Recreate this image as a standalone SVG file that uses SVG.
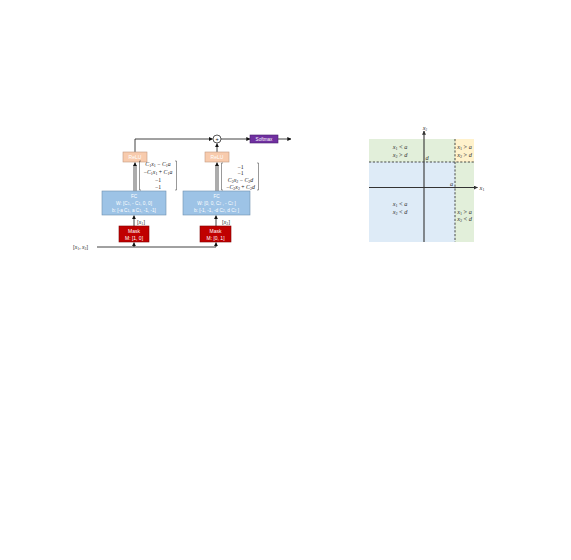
<svg xmlns="http://www.w3.org/2000/svg" width="571" height="560" viewBox="0 0 571 560">
<style>
.bg{fill:#ffffff}
.mask{fill:#c00000;stroke:#7f0000;stroke-width:0.6}
.fc{fill:#9dc3e6;stroke:#6f8fae;stroke-width:0.6}
.relu{fill:#f8cbad;stroke:#c49a80;stroke-width:0.6}
.soft{fill:#7030a0;stroke:#4b1f6e;stroke-width:0.6}
.wt{font-family:"Liberation Sans",Arial,sans-serif;fill:#ffffff;text-anchor:middle}
.lab{font-family:"Liberation Serif","Times New Roman",serif;fill:#222;font-size:5.5px}
.vec{font-family:"Liberation Serif","Times New Roman",serif;fill:#222;font-size:5.8px;text-anchor:middle}
.ln{stroke:#111;stroke-width:0.8;fill:none}
.ln2{stroke:#111;stroke-width:0.7;fill:none}
.br{stroke:#333;stroke-width:0.5;fill:none}
.ax{stroke:#333;stroke-width:1.1;fill:none}
.dash{stroke:#222;stroke-width:0.8;stroke-dasharray:2.2,1.6;fill:none}
.rt{font-family:"Liberation Serif","Times New Roman",serif;fill:#333;font-size:6.3px;text-anchor:middle}
.i{font-style:italic}
</style>
<defs>
<marker id="ah" viewBox="0 0 6 6" refX="5.5" refY="3" markerWidth="4" markerHeight="4" orient="auto" markerUnits="userSpaceOnUse">
<path d="M0,0 L6,3 L0,6 Z" fill="#111"/>
</marker>
<marker id="ah2" viewBox="0 0 6 6" refX="5.5" refY="3" markerWidth="4" markerHeight="4" orient="auto" markerUnits="userSpaceOnUse">
<path d="M0,0 L6,3 L0,6 Z" fill="#333"/>
</marker>
</defs>
<rect class="bg" x="0" y="0" width="571" height="560"/>

<g id="regions">
<rect x="369" y="139" width="86" height="23" fill="#e2efda"/>
<rect x="455" y="139" width="19" height="23" fill="#fff2cc"/>
<rect x="369" y="162" width="86" height="80" fill="#deebf7"/>
<rect x="455" y="162" width="19" height="80" fill="#e2efda"/>
</g>

<g id="connectors">
<line class="ln" x1="97" y1="247" x2="216" y2="247"/>
<line class="ln" x1="134" y1="247" x2="134" y2="242.5" marker-end="url(#ah)"/>
<line class="ln" x1="216" y1="247" x2="216" y2="242.5" marker-end="url(#ah)"/>
<line class="ln" x1="134" y1="226" x2="134" y2="215.5" marker-end="url(#ah)"/>
<line class="ln" x1="216" y1="226" x2="216" y2="215.5" marker-end="url(#ah)"/>
<line class="ln2" x1="134" y1="191" x2="134" y2="165"/>
<line class="ln2" x1="136" y1="191" x2="136" y2="165"/>
<line class="ln" x1="135" y1="166" x2="135" y2="162.5" marker-end="url(#ah)"/>
<line class="ln2" x1="216" y1="191" x2="216" y2="165"/>
<line class="ln2" x1="218" y1="191" x2="218" y2="165"/>
<line class="ln" x1="217" y1="166" x2="217" y2="162.5" marker-end="url(#ah)"/>
<polyline class="ln" points="135,152 135,139 212.5,139" marker-end="url(#ah)"/>
<line class="ln" x1="217" y1="152" x2="217" y2="143.5" marker-end="url(#ah)"/>
<line class="ln" x1="221" y1="139" x2="250" y2="139" marker-end="url(#ah)"/>
<line class="ln" x1="278" y1="139" x2="291" y2="139" marker-end="url(#ah)"/>
</g>

<g id="input-label">
<text class="lab" x="73" y="249"><tspan>[</tspan><tspan class="i">x</tspan><tspan font-size="3.8" dy="1">1</tspan><tspan dy="-1">, </tspan><tspan class="i">x</tspan><tspan font-size="3.8" dy="1">2</tspan><tspan dy="-1">]</tspan></text>
</g>

<g id="mask1">
<rect class="mask" x="119" y="226" width="30" height="16"/>
<text class="wt" x="134" y="233" font-size="5">Mask</text>
<text class="wt" x="134" y="239.5" font-size="5">M: [1, 0]</text>
</g>
<g id="mask2">
<rect class="mask" x="200" y="226" width="31" height="16"/>
<text class="wt" x="215.5" y="233" font-size="5">Mask</text>
<text class="wt" x="215.5" y="239.5" font-size="5">M: [0, 1]</text>
</g>

<g id="x1-label">
<text class="lab" x="137" y="223.5"><tspan>[</tspan><tspan class="i">x</tspan><tspan font-size="3.8" dy="1">1</tspan><tspan dy="-1">]</tspan></text>
</g>
<g id="x2-label">
<text class="lab" x="222" y="223.5"><tspan>[</tspan><tspan class="i">x</tspan><tspan font-size="3.8" dy="1">2</tspan><tspan dy="-1">]</tspan></text>
</g>

<g id="fc1">
<rect class="fc" x="102" y="191" width="64" height="24"/>
<text class="wt" x="134" y="197.5" font-size="4.7">FC</text>
<text class="wt" x="134" y="204.5" font-size="4.7">W: [C<tspan font-size="3.3" dy="0.8">1</tspan><tspan dy="-0.8">, - C</tspan><tspan font-size="3.3" dy="0.8">1</tspan><tspan dy="-0.8">, 0, 0]</tspan></text>
<text class="wt" x="134" y="211.5" font-size="4.7">b: [-a C<tspan font-size="3.3" dy="0.8">1</tspan><tspan dy="-0.8">, a C</tspan><tspan font-size="3.3" dy="0.8">1</tspan><tspan dy="-0.8">, -1, -1]</tspan></text>
</g>
<g id="fc2">
<rect class="fc" x="183" y="191" width="67" height="24"/>
<text class="wt" x="216.5" y="197.5" font-size="4.7">FC</text>
<text class="wt" x="216.5" y="204.5" font-size="4.7">W: [0, 0, C<tspan font-size="3.3" dy="0.8">2</tspan><tspan dy="-0.8"> , - C</tspan><tspan font-size="3.3" dy="0.8">2</tspan><tspan dy="-0.8"> ]</tspan></text>
<text class="wt" x="216.5" y="211.5" font-size="4.7">b: [-1, -1, -d C<tspan font-size="3.3" dy="0.8">2</tspan><tspan dy="-0.8">, d C</tspan><tspan font-size="3.3" dy="0.8">2</tspan><tspan dy="-0.8"> ]</tspan></text>
</g>

<g id="relu1">
<rect class="relu" x="123" y="152" width="24" height="10"/>
<text class="wt" x="135" y="158.8" font-size="5">ReLU</text>
</g>
<g id="relu2">
<rect class="relu" x="205" y="152" width="24" height="10"/>
<text class="wt" x="217" y="158.8" font-size="5">ReLU</text>
</g>

<g id="vector1">
<path class="br" d="M141,161 H139.5 V190 H141"/>
<path class="br" d="M175,161 H176.5 V190 H175"/>
<text class="vec" x="158" y="166"><tspan class="i">C</tspan><tspan font-size="4" dy="1">1</tspan><tspan class="i" dy="-1">x</tspan><tspan font-size="4" dy="1">1</tspan><tspan dy="-1"> − </tspan><tspan class="i">C</tspan><tspan font-size="4" dy="1">1</tspan><tspan class="i" dy="-1">a</tspan></text>
<text class="vec" x="158" y="173.5"><tspan>−</tspan><tspan class="i">C</tspan><tspan font-size="4" dy="1">1</tspan><tspan class="i" dy="-1">x</tspan><tspan font-size="4" dy="1">1</tspan><tspan dy="-1"> + </tspan><tspan class="i">C</tspan><tspan font-size="4" dy="1">1</tspan><tspan class="i" dy="-1">a</tspan></text>
<text class="vec" x="158" y="181.5">−1</text>
<text class="vec" x="158" y="188.5">−1</text>
</g>
<g id="vector2">
<path class="br" d="M223,163 H221.5 V190 H223"/>
<path class="br" d="M257,163 H258.5 V190 H257"/>
<text class="vec" x="240.5" y="168.5">−1</text>
<text class="vec" x="240.5" y="175">−1</text>
<text class="vec" x="240.5" y="182"><tspan class="i">C</tspan><tspan font-size="4" dy="1">2</tspan><tspan class="i" dy="-1">x</tspan><tspan font-size="4" dy="1">2</tspan><tspan dy="-1"> − </tspan><tspan class="i">C</tspan><tspan font-size="4" dy="1">2</tspan><tspan class="i" dy="-1">d</tspan></text>
<text class="vec" x="240.5" y="188.5"><tspan>−</tspan><tspan class="i">C</tspan><tspan font-size="4" dy="1">2</tspan><tspan class="i" dy="-1">x</tspan><tspan font-size="4" dy="1">2</tspan><tspan dy="-1"> + </tspan><tspan class="i">C</tspan><tspan font-size="4" dy="1">2</tspan><tspan class="i" dy="-1">d</tspan></text>
</g>

<g id="sum">
<circle cx="217" cy="139" r="4" fill="#fff" stroke="#111" stroke-width="0.7"/>
<text x="217" y="141" font-family="Liberation Sans,Arial,sans-serif" font-size="5.5" text-anchor="middle" fill="#111">+</text>
</g>

<g id="softmax">
<rect class="soft" x="250" y="135" width="28" height="8"/>
<text class="wt" x="264" y="140.7" font-size="4.6">Softmax</text>
</g>

<g id="plot-lines">
<line class="dash" x1="369" y1="162" x2="474" y2="162"/>
<line class="dash" x1="455" y1="139" x2="455" y2="242"/>
<line class="ax" x1="369" y1="187.5" x2="477.5" y2="187.5" marker-end="url(#ah2)"/>
<line class="ax" x1="424" y1="242" x2="424" y2="131" marker-end="url(#ah2)"/>
</g>
<g id="plot-labels">
<text class="rt" x="482" y="190"><tspan class="i">x</tspan><tspan font-size="4" dy="1">1</tspan></text>
<text class="rt" x="425" y="130" font-size="4.5"><tspan class="i">x</tspan><tspan font-size="3.2" dy="0.8">2</tspan></text>
<text class="rt i" x="427" y="160">d</text>
<text class="rt i" x="451.5" y="186" font-size="5.8">a</text>
</g>
<g id="region-tl">
<text class="rt" x="400" y="148.5"><tspan class="i">x</tspan><tspan font-size="4.2" dy="1">1</tspan><tspan dy="-1"> &lt; </tspan><tspan class="i">a</tspan></text>
<text class="rt" x="400" y="156.5"><tspan class="i">x</tspan><tspan font-size="4.2" dy="1">2</tspan><tspan dy="-1"> &gt; </tspan><tspan class="i">d</tspan></text>
</g>
<g id="region-tr">
<text class="rt" x="464.5" y="148.5"><tspan class="i">x</tspan><tspan font-size="4.2" dy="1">1</tspan><tspan dy="-1"> &gt; </tspan><tspan class="i">a</tspan></text>
<text class="rt" x="464.5" y="156.5"><tspan class="i">x</tspan><tspan font-size="4.2" dy="1">2</tspan><tspan dy="-1"> &gt; </tspan><tspan class="i">d</tspan></text>
</g>
<g id="region-bl">
<text class="rt" x="400" y="205.5"><tspan class="i">x</tspan><tspan font-size="4.2" dy="1">1</tspan><tspan dy="-1"> &lt; </tspan><tspan class="i">a</tspan></text>
<text class="rt" x="400" y="213.5"><tspan class="i">x</tspan><tspan font-size="4.2" dy="1">2</tspan><tspan dy="-1"> &lt; </tspan><tspan class="i">d</tspan></text>
</g>
<g id="region-br">
<text class="rt" x="464.5" y="213.5"><tspan class="i">x</tspan><tspan font-size="4.2" dy="1">1</tspan><tspan dy="-1"> &gt; </tspan><tspan class="i">a</tspan></text>
<text class="rt" x="464.5" y="221"><tspan class="i">x</tspan><tspan font-size="4.2" dy="1">2</tspan><tspan dy="-1"> &lt; </tspan><tspan class="i">d</tspan></text>
</g>
</svg>
